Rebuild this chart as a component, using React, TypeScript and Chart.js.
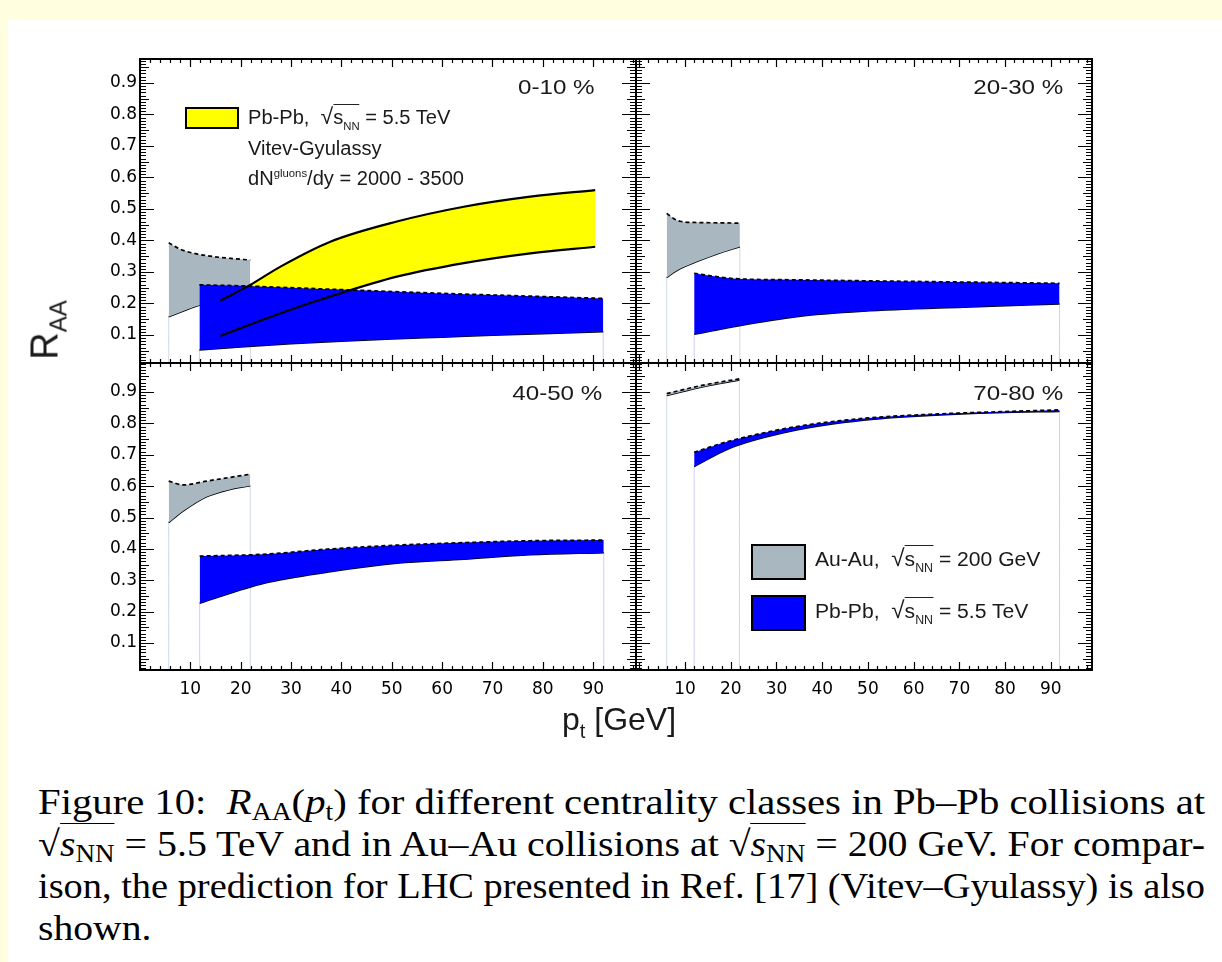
import React, { useEffect, useLayoutEffect, useRef } from 'react';
import { Chart, registerables } from 'chart.js';
Chart.register(...registerables);

// ---------------- tick labels ----------------
const X_TICKS = [10, 20, 30, 40, 50, 60, 70, 80, 90];
const Y_TICKS = [0.1, 0.2, 0.3, 0.4, 0.5, 0.6, 0.7, 0.8, 0.9];
const X_MAJOR = 10;
const X_MINOR = 2;
const Y_MAJOR = 0.1;
const Y_MID = 0.05;
const Y_MINOR = 0.01;

// ---------------- 0-10 % ----------------
const C010_AUAU_PT = [5.7, 8, 11, 14, 18, 21.9];
const C010_AUAU_HI = [0.393, 0.372, 0.358, 0.35, 0.343, 0.338];
const C010_AUAU_LO = [0.158, 0.172, 0.19, 0.205, 0.222, 0.238];
const C010_PBPB_PT = [11.8, 20, 30, 40, 50, 60, 70, 80, 92];
const C010_PBPB_HI = [0.259, 0.256, 0.25, 0.244, 0.238, 0.232, 0.227, 0.222, 0.216];
const C010_PBPB_LO = [0.052, 0.062, 0.072, 0.08, 0.087, 0.093, 0.099, 0.104, 0.11];
const C010_VITEV_PT = [15.95, 21.9, 27.9, 37.8, 51, 64.3, 77.5, 90.4];
const C010_VITEV_HI = [0.209, 0.259, 0.317, 0.396, 0.46, 0.507, 0.539, 0.56];
const C010_VITEV_LO = [0.097, 0.133, 0.169, 0.222, 0.285, 0.328, 0.359, 0.38];

// ---------------- 20-30 % ----------------
const C2030_AUAU_PT = [6.0, 7.5, 8.9, 12.6, 17, 22.0];
const C2030_AUAU_HI = [0.486, 0.47, 0.461, 0.457, 0.456, 0.455];
const C2030_AUAU_LO = [0.282, 0.298, 0.31, 0.333, 0.357, 0.38];
const C2030_PBPB_PT = [12, 16, 20.6, 34.4, 49, 70.9, 91.9];
const C2030_PBPB_HI = [0.296, 0.287, 0.279, 0.275, 0.272, 0.268, 0.264];
const C2030_PBPB_LO = [0.102, 0.113, 0.126, 0.158, 0.175, 0.188, 0.198];

// ---------------- 40-50 % ----------------
const C4050_AUAU_PT = [5.7, 8.7, 13.2, 17.5, 21.9];
const C4050_AUAU_HI = [0.616, 0.604, 0.616, 0.627, 0.638];
const C4050_AUAU_LO = [0.484, 0.522, 0.566, 0.588, 0.601];
const C4050_PBPB_PT = [11.85, 24.5, 37.8, 51, 64.3, 77.5, 92.1];
const C4050_PBPB_HI = [0.377, 0.383, 0.4, 0.412, 0.42, 0.426, 0.428];
const C4050_PBPB_LO = [0.227, 0.29, 0.327, 0.354, 0.367, 0.381, 0.388];

// ---------------- 70-80 % ----------------
const C7080_AUAU_PT = [6.0, 14, 21.9];
const C7080_AUAU_HI = [0.895, 0.922, 0.942];
const C7080_AUAU_LO = [0.889, 0.917, 0.938];
const C7080_PBPB_PT = [12.0, 19.8, 34.4, 49, 63.6, 78.2, 91.9];
const C7080_PBPB_HI = [0.708, 0.744, 0.79, 0.816, 0.829, 0.837, 0.843];
const C7080_PBPB_LO = [0.662, 0.721, 0.779, 0.81, 0.825, 0.834, 0.838];

// ---------------- styling / layout ----------------
const GRAY = '#a9b7c0';
const BLUE = '#0000ff';
const YELLOW = '#ffff00';
const EDGE_BLUE = 'rgba(170,170,255,0.6)';
const EDGE_GRAY = 'rgba(185,200,215,0.7)';

const M = 16; // canvas margin around frame
const YW = 70; // y tick label area
const XH = 40; // x tick label area

type Band = { pt: number[]; hi: number[]; lo: number[] };
type PanelSpec = {
  frame: [number, number, number, number];
  xMin: number; xMax: number; yMin: number; yMax: number;
  showX: boolean; showY: boolean;
  auau: Band; pbpb: Band; vitev?: Band;
};

const LX0 = 140, MX = 636, RX1 = 1092, TY0 = 59, MY = 363, BY1 = 670;
const LEFT_RANGE = [0, 98.5];
const RIGHT_RANGE = [-0.72, 99.0];
const TOP_RANGE = [0.011, 0.976];
const BOT_RANGE = [0.014, 0.9925];

const PANELS: PanelSpec[] = [
  {
    frame: [LX0, TY0, MX, MY], xMin: LEFT_RANGE[0], xMax: LEFT_RANGE[1], yMin: TOP_RANGE[0], yMax: TOP_RANGE[1],
    showX: false, showY: true,
    auau: { pt: C010_AUAU_PT, hi: C010_AUAU_HI, lo: C010_AUAU_LO },
    pbpb: { pt: C010_PBPB_PT, hi: C010_PBPB_HI, lo: C010_PBPB_LO },
    vitev: { pt: C010_VITEV_PT, hi: C010_VITEV_HI, lo: C010_VITEV_LO },
  },
  {
    frame: [MX, TY0, RX1, MY], xMin: RIGHT_RANGE[0], xMax: RIGHT_RANGE[1], yMin: TOP_RANGE[0], yMax: TOP_RANGE[1],
    showX: false, showY: false,
    auau: { pt: C2030_AUAU_PT, hi: C2030_AUAU_HI, lo: C2030_AUAU_LO },
    pbpb: { pt: C2030_PBPB_PT, hi: C2030_PBPB_HI, lo: C2030_PBPB_LO },
  },
  {
    frame: [LX0, MY, MX, BY1], xMin: LEFT_RANGE[0], xMax: LEFT_RANGE[1], yMin: BOT_RANGE[0], yMax: BOT_RANGE[1],
    showX: true, showY: true,
    auau: { pt: C4050_AUAU_PT, hi: C4050_AUAU_HI, lo: C4050_AUAU_LO },
    pbpb: { pt: C4050_PBPB_PT, hi: C4050_PBPB_HI, lo: C4050_PBPB_LO },
  },
  {
    frame: [MX, MY, RX1, BY1], xMin: RIGHT_RANGE[0], xMax: RIGHT_RANGE[1], yMin: BOT_RANGE[0], yMax: BOT_RANGE[1],
    showX: true, showY: false,
    auau: { pt: C7080_AUAU_PT, hi: C7080_AUAU_HI, lo: C7080_AUAU_LO },
    pbpb: { pt: C7080_PBPB_PT, hi: C7080_PBPB_HI, lo: C7080_PBPB_LO },
  },
];

function xy(pt: number[], v: number[]) {
  return pt.map((x, i) => ({ x, y: v[i] }));
}

function makeDatasets(spec: PanelSpec) {
  const ds: any[] = [];
  const base = { pointRadius: 0, pointHoverRadius: 0, cubicInterpolationMode: 'monotone', borderCapStyle: 'butt', borderJoinStyle: 'round' };
  const edge = (b: Band, color: string) => {
    const n = b.pt.length - 1;
    ds.push({ ...base, data: [{ x: b.pt[0], y: b.lo[0] }, { x: b.pt[0], y: spec.yMin }], borderColor: color, borderWidth: 1, fill: false, order: 20 });
    ds.push({ ...base, data: [{ x: b.pt[n], y: b.lo[n] }, { x: b.pt[n], y: spec.yMin }], borderColor: color, borderWidth: 1, fill: false, order: 20 });
  };
  edge(spec.auau, EDGE_GRAY);
  edge(spec.pbpb, EDGE_BLUE);
  // Au-Au band
  ds.push({ ...base, data: xy(spec.auau.pt, spec.auau.hi), fill: '+1', backgroundColor: GRAY, borderColor: '#000', borderWidth: 1.7, borderDash: [4, 3], order: 10 });
  ds.push({ ...base, data: xy(spec.auau.pt, spec.auau.lo), fill: false, borderColor: '#000', borderWidth: 1.5, order: 10 });
  if (spec.vitev) {
    ds.push({ ...base, data: xy(spec.vitev.pt, spec.vitev.hi), fill: '+1', backgroundColor: YELLOW, borderColor: 'rgba(0,0,0,0)', borderWidth: 0, order: 8 });
    ds.push({ ...base, data: xy(spec.vitev.pt, spec.vitev.lo), fill: false, borderColor: 'rgba(0,0,0,0)', borderWidth: 0, order: 8 });
  }
  // Pb-Pb band
  ds.push({ ...base, data: xy(spec.pbpb.pt, spec.pbpb.hi), fill: '+1', backgroundColor: BLUE, borderColor: '#000', borderWidth: 1.7, borderDash: [4, 3], order: 6 });
  ds.push({ ...base, data: xy(spec.pbpb.pt, spec.pbpb.lo), fill: false, borderColor: '#000', borderWidth: 1.5, order: 6 });
  if (spec.vitev) {
    ds.push({ ...base, data: xy(spec.vitev.pt, spec.vitev.hi), fill: false, borderColor: '#000', borderWidth: 2.2, order: 1 });
    ds.push({ ...base, data: xy(spec.vitev.pt, spec.vitev.lo), fill: false, borderColor: '#000', borderWidth: 2.2, order: 1 });
  }
  return ds;
}

function isMultiple(v: number, step: number) {
  return Math.abs(v / step - Math.round(v / step)) < 1e-6;
}

const frameTicks = {
  id: 'frameTicks',
  afterDatasetsDraw(chart: any) {
    const { ctx, chartArea: a, scales } = chart;
    const xs = scales.x, ys = scales.y;
    ctx.save();
    ctx.strokeStyle = '#000';
    ctx.lineWidth = 1.2;
    ctx.beginPath();
    const x0 = Math.ceil(xs.min / X_MINOR) * X_MINOR;
    for (let k = 0; x0 + k * X_MINOR <= xs.max + 1e-9; k++) {
      const v = x0 + k * X_MINOR;
      const px = Math.round(xs.getPixelForValue(v)) + 0.5;
      const L = isMultiple(v, X_MAJOR) ? 8 : 4;
      ctx.moveTo(px, a.bottom); ctx.lineTo(px, a.bottom - L);
      ctx.moveTo(px, a.top); ctx.lineTo(px, a.top + L);
    }
    const y0 = Math.ceil(ys.min / Y_MINOR - 1e-9) * Y_MINOR;
    for (let k = 0; y0 + k * Y_MINOR <= ys.max + 1e-9; k++) {
      const v = y0 + k * Y_MINOR;
      const py = Math.round(ys.getPixelForValue(v)) + 0.5;
      const L = isMultiple(v, Y_MAJOR) ? 14 : isMultiple(v, Y_MID) ? 9 : 6;
      ctx.moveTo(a.left, py); ctx.lineTo(a.left + L, py);
      ctx.moveTo(a.right, py); ctx.lineTo(a.right - L, py);
    }
    ctx.stroke();
    ctx.lineWidth = 2;
    ctx.strokeRect(a.left, a.top, a.right - a.left, a.bottom - a.top);
    ctx.restore();
  },
};

function canvasRect(spec: PanelSpec) {
  const [fx0, fy0, fx1, fy1] = spec.frame;
  const left = fx0 - M - (spec.showY ? YW : 0);
  const top = fy0 - M;
  const width = fx1 - fx0 + 2 * M + (spec.showY ? YW : 0);
  const height = fy1 - fy0 + 2 * M + (spec.showX ? XH : 0);
  return { left, top, width, height };
}

function Panel({ spec }: { spec: PanelSpec }) {
  const ref = useRef<HTMLCanvasElement>(null);
  const r = canvasRect(spec);
  useEffect(() => {
    const chart = new Chart(ref.current as HTMLCanvasElement, {
      type: 'line',
      data: { datasets: makeDatasets(spec) },
      options: {
        animation: false,
        responsive: false,
        maintainAspectRatio: false,
        devicePixelRatio: 1,
        events: [],
        layout: { padding: { left: M, right: M, top: M, bottom: M } },
        plugins: { legend: { display: false }, tooltip: { enabled: false }, title: { display: false } },
        scales: {
          x: {
            type: 'linear', min: spec.xMin, max: spec.xMax, display: spec.showX,
            grid: { display: false, drawTicks: false }, border: { display: false },
            afterBuildTicks: (s: any) => { s.ticks = X_TICKS.map((value) => ({ value })); },
            afterFit: (s: any) => { if (spec.showX) s.height = XH; },
            ticks: { padding: 9, color: '#000', autoSkip: false, maxRotation: 0, font: { family: 'DejaVu Sans', size: 17 }, callback: (v: any) => String(v) },
          },
          y: {
            type: 'linear', min: spec.yMin, max: spec.yMax, display: spec.showY,
            grid: { display: false, drawTicks: false }, border: { display: false },
            afterBuildTicks: (s: any) => { s.ticks = Y_TICKS.map((value) => ({ value })); },
            afterFit: (s: any) => { if (spec.showY) s.width = YW; },
            ticks: { padding: 3, color: '#000', autoSkip: false, font: { family: 'DejaVu Sans', size: 17 }, callback: (v: any) => Number(v).toFixed(1) },
          },
        },
      } as any,
      plugins: [frameTicks],
    } as any);
    return () => chart.destroy();
  }, []);
  return <canvas ref={ref} width={r.width} height={r.height} style={{ position: 'absolute', left: r.left, top: r.top, width: r.width, height: r.height }} />;
}

const SANS = "'Liberation Sans', Arial, sans-serif";
const SERIF = "'Liberation Serif', 'Times New Roman', serif";

function Sqrt({ size, sub }: { size: number; sub: number }) {
  return (
    <span style={{ whiteSpace: 'nowrap' }}>
      <span style={{ fontSize: size * 1.15, fontWeight: 300 }}>√</span>
      <span style={{ borderTop: '1.5px solid #222', paddingTop: 1 }}>
        s<span style={{ fontSize: sub, position: 'relative', top: size * 0.3 }}>NN</span>
      </span>
    </span>
  );
}

function Label({ x, y, children, size, right, scale = 1 }: any) {
  const style: any = {
    position: 'absolute', top: y - 14, height: 28, lineHeight: '28px', fontFamily: SANS, fontSize: size, color: '#1a1a1a', whiteSpace: 'nowrap',
    transform: `scaleX(${scale})`, transformOrigin: right ? 'right center' : 'left center',
  };
  if (right) style.right = 1222 - x; else style.left = x;
  return <div style={style}>{children}</div>;
}

const CAPTION_LEFT = 38;
const CAPTION_WIDTH = 1167;

function Caption() {
  const refs = [useRef<HTMLDivElement>(null), useRef<HTMLDivElement>(null), useRef<HTMLDivElement>(null), useRef<HTMLDivElement>(null)];
  useLayoutEffect(() => {
    const scales: number[] = [];
    refs.slice(0, 3).forEach((r) => {
      const el = r.current!;
      const w = el.getBoundingClientRect().width;
      const s = CAPTION_WIDTH / w;
      scales.push(s);
      el.style.transform = `scaleX(${s})`;
    });
    const avg = scales.reduce((a, b) => a + b, 0) / scales.length;
    refs[3].current!.style.transform = `scaleX(${avg})`;
  }, []);
  const line: any = { position: 'absolute', left: 0, whiteSpace: 'nowrap', transformOrigin: 'left center', display: 'inline-block' };
  const sub: any = { fontSize: '0.68em', position: 'relative', top: '0.25em' };
  const sq = (
    <span style={{ whiteSpace: 'nowrap' }}>
      <span>√</span>
      <span style={{ borderTop: '1.5px solid #000' }}><i>s</i><span style={sub}>NN</span></span>
    </span>
  );
  return (
    <div style={{ position: 'absolute', left: CAPTION_LEFT, top: 781, width: CAPTION_WIDTH, height: 170, fontFamily: SERIF, fontSize: 36, lineHeight: '42px', color: '#000' }}>
      <div ref={refs[0]} style={{ ...line, top: 0 }}>Figure 10:&nbsp; <i>R</i><span style={sub}>AA</span>(<i>p</i><span style={sub}>t</span>) for different centrality classes in Pb–Pb collisions at</div>
      <div ref={refs[1]} style={{ ...line, top: 42 }}>{sq} = 5.5 TeV and in Au–Au collisions at {sq} = 200 GeV. For compar-</div>
      <div ref={refs[2]} style={{ ...line, top: 83.5 }}>ison, the prediction for LHC presented in Ref. [17] (Vitev–Gyulassy) is also</div>
      <div ref={refs[3]} style={{ ...line, top: 125.5 }}>shown.</div>
    </div>
  );
}

export default function App() {
  return (
    <div style={{ position: 'absolute', left: 0, top: 0, width: 1222, height: 962, background: '#ffffe0', overflow: 'hidden' }}>
      <div style={{ position: 'absolute', left: 8, top: 20, right: 0, bottom: 0, background: '#ffffff' }} />
      {PANELS.map((p, i) => <Panel key={i} spec={p} />)}

      {/* panel labels */}
      <Label x={595} y={87} size={21} right scale={1.15}>0-10 %</Label>
      <Label x={1063} y={87} size={21} right scale={1.15}>20-30 %</Label>
      <Label x={602} y={393} size={21} right scale={1.15}>40-50 %</Label>
      <Label x={1063} y={393} size={21} right scale={1.15}>70-80 %</Label>

      {/* legend in 0-10 % */}
      <div style={{ position: 'absolute', left: 185, top: 107, width: 54, height: 22, background: YELLOW, border: '2px solid #000', boxSizing: 'border-box' }} />
      <Label x={248} y={117} size={19.5} scale={1.03}>Pb-Pb,&nbsp; <Sqrt size={19.5} sub={11} /> = 5.5 TeV</Label>
      <Label x={248} y={148} size={19.5} scale={1.03}>Vitev-Gyulassy</Label>
      <Label x={248} y={178} size={19.5} scale={1.03}>dN<span style={{ fontSize: 11, position: 'relative', top: -8 }}>gluons</span>/dy = 2000 - 3500</Label>

      {/* legend in 70-80 % */}
      <div style={{ position: 'absolute', left: 751, top: 544, width: 55, height: 36, background: GRAY, border: '2px solid #000', boxSizing: 'border-box' }} />
      <Label x={815} y={558} size={20.5} scale={1.03}>Au-Au,&nbsp; <Sqrt size={20.5} sub={12} /> = 200 GeV</Label>
      <div style={{ position: 'absolute', left: 751, top: 595, width: 55, height: 36, background: BLUE, border: '2px solid #000', boxSizing: 'border-box' }} />
      <Label x={815} y={610} size={20.5} scale={1.03}>Pb-Pb,&nbsp; <Sqrt size={20.5} sub={12} /> = 5.5 TeV</Label>

      {/* axis titles */}
      <div style={{ position: 'absolute', left: 47, top: 330, transform: 'translate(-50%, -50%) rotate(-90deg)', fontFamily: SANS, fontSize: 38, color: '#1a1a1a', whiteSpace: 'nowrap', lineHeight: '44px' }}>
        R<span style={{ fontSize: 24, position: 'relative', top: 9 }}>AA</span>
      </div>
      <div style={{ position: 'absolute', left: 562, top: 701, fontFamily: SANS, fontSize: 32, color: '#1a1a1a', whiteSpace: 'nowrap', lineHeight: '36px' }}>
        p<span style={{ fontSize: 20, position: 'relative', top: 8 }}>t</span> [GeV]
      </div>

      <Caption />
    </div>
  );
}
